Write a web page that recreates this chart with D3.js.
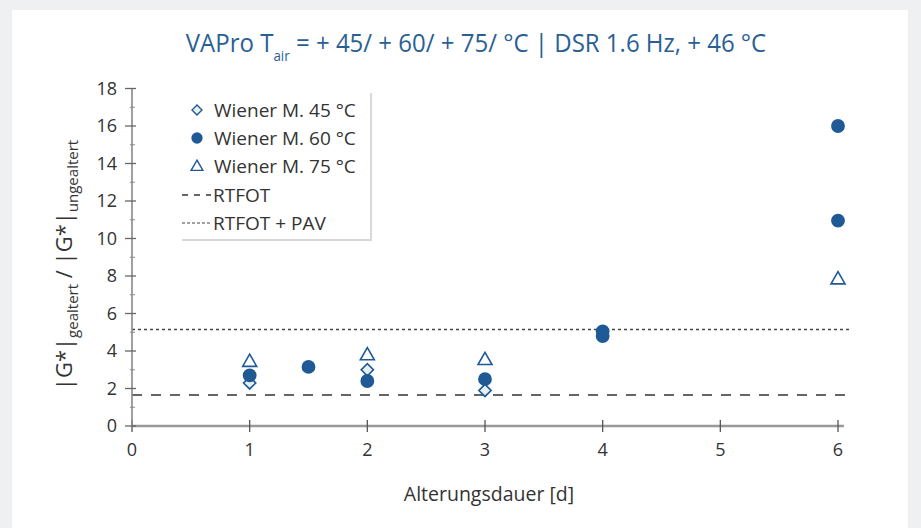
<!DOCTYPE html>
<html><head><meta charset="utf-8">
<script src="https://cdn.jsdelivr.net/npm/d3@7"></script>
<style>
html,body{margin:0;padding:0;background:#eef0f2;}
svg{display:block;}
</style></head>
<body><svg id="c" width="921" height="528"></svg>
<script>
// ---- data ----
const xTicks = [0,1,2,3,4,5,6];
const yTicks = [0,2,4,6,8,10,12,14,16,18];
const wiener45 = [[1,2.3],[2,3.0],[3,1.9]];
const wiener60 = [[1,2.7],[1.5,3.15],[2,2.4],[3,2.5],[4,5.05],[4,4.8],[6,16.0],[6,10.95]];
const wiener75 = [[1,3.45],[2,3.8],[3,3.55],[6,7.85]];
const rtfot = 1.65;
const rtfotPav = 5.15;
const legendLabels = ["Wiener M. 45 °C","Wiener M. 60 °C","Wiener M. 75 °C","RTFOT","RTFOT + PAV"];

const blue = "#1f5a96";
const svg = d3.select("#c");
svg.append("rect").attr("x",12).attr("y",10).attr("width",896).attr("height",518).attr("fill","#ffffff");

const x = d3.scaleLinear().domain([0,6]).range([132,838]);
const y = d3.scaleLinear().domain([0,18]).range([426,88.5]);
const font = "'Open Sans',sans-serif";

// title (condensed look via horizontal scale)
const t = svg.append("text").attr("transform","translate(476,52) scale(0.96,1)").attr("text-anchor","middle")
  .attr("fill","#2a5f95").attr("font-family",font).attr("font-size",25);
t.append("tspan").text("VAPro T");
t.append("tspan").attr("font-size",14).attr("dy",9).text("air");
t.append("tspan").attr("dy",-9).text(" = + 45/ + 60/ + 75/ °C | DSR 1.6 Hz, + 46 °C");

// reference lines
const lineG = svg.append("g");
lineG.append("line").attr("x1",x(0)).attr("x2",x(6.1)).attr("y1",y(rtfot)).attr("y2",y(rtfot))
  .attr("stroke","#333").attr("stroke-width",1.6).attr("stroke-dasharray","10,9");
lineG.append("line").attr("x1",x(0)).attr("x2",x(6.1)).attr("y1",y(rtfotPav)).attr("y2",y(rtfotPav))
  .attr("stroke","#444").attr("stroke-width",1.4).attr("stroke-dasharray","3,3");

// axes
const xAxis = svg.append("g").attr("transform",`translate(0,${y(0)})`);
xAxis.append("line").attr("x1",x(0)).attr("x2",x(6.05)).attr("stroke","#999").attr("stroke-width",2.5);
xAxis.selectAll("line.t").data(xTicks).join("line").attr("class","t")
  .attr("x1",d=>x(d)).attr("x2",d=>x(d)).attr("y1",-6).attr("y2",6).attr("stroke","#555").attr("stroke-width",1.3);
xAxis.selectAll("text").data(xTicks).join("text").attr("x",d=>x(d)).attr("y",30)
  .attr("text-anchor","middle").attr("font-family",font).attr("font-size",18).attr("fill","#333").text(d=>d);

const yAxis = svg.append("g").attr("transform",`translate(${x(0)},0)`);
yAxis.append("line").attr("y1",y(0)).attr("y2",y(18)).attr("stroke","#888").attr("stroke-width",1.6);
yAxis.selectAll("line.m").data(d3.range(1,18,1).filter(d=>d%2)).join("line").attr("class","m")
  .attr("y1",d=>y(d)).attr("y2",d=>y(d)).attr("x1",-2).attr("x2",3).attr("stroke","#888").attr("stroke-width",1);
yAxis.selectAll("line.t").data(yTicks).join("line").attr("class","t")
  .attr("y1",d=>y(d)).attr("y2",d=>y(d)).attr("x1",-7).attr("x2",4).attr("stroke","#666").attr("stroke-width",1.3);
yAxis.selectAll("text").data(yTicks).join("text").attr("x",-15).attr("y",d=>y(d)+6)
  .attr("text-anchor","end").attr("font-family",font).attr("font-size",18).attr("fill","#333").text(d=>d);

// axis titles
svg.append("text").attr("x",489).attr("y",501).attr("text-anchor","middle").attr("font-family",font)
  .attr("font-size",19.5).attr("fill","#333").text("Alterungsdauer [d]");
const yl = svg.append("text").attr("transform","translate(72,265) rotate(-90)").attr("text-anchor","middle")
  .attr("font-family",font).attr("font-size",22).attr("fill","#333");
yl.append("tspan").text("|G*|");
yl.append("tspan").attr("font-size",15).attr("dy",6).text("gealtert");
yl.append("tspan").attr("dy",-6).text(" / |G*|");
yl.append("tspan").attr("font-size",15).attr("dy",6).text("ungealtert");

// marker shapes
const diamond = d3.symbol().type(d3.symbolSquare).size(75);
const circle = d3.symbol().type(d3.symbolCircle).size(150);
const tri = d3.symbol().type(d3.symbolTriangle).size(85);

const pts = svg.append("g");
pts.selectAll("path.d").data(wiener45).join("path").attr("class","d")
  .attr("d",diamond).attr("transform",d=>`translate(${x(d[0])},${y(d[1])}) rotate(45)`)
  .attr("fill","#e6f0ef").attr("stroke",blue).attr("stroke-width",1.6);
pts.selectAll("path.c").data(wiener60).join("path").attr("class","c")
  .attr("d",circle).attr("transform",d=>`translate(${x(d[0])},${y(d[1])})`).attr("fill",blue);
pts.selectAll("path.tr").data(wiener75).join("path").attr("class","tr")
  .attr("d",tri).attr("transform",d=>`translate(${x(d[0])},${y(d[1])+1})`)
  .attr("fill","#fff").attr("stroke",blue).attr("stroke-width",1.6);

// legend
const lg = svg.append("g");
lg.append("rect").attr("x",180).attr("y",91).attr("width",190).attr("height",148).attr("fill","#c8c8c8").attr("transform","translate(2,2)").attr("opacity",0.7);
lg.append("rect").attr("x",180).attr("y",91).attr("width",190).attr("height",148).attr("fill","#fff");
const rows = [110,138,166,195,223];
lg.selectAll("text").data(legendLabels).join("text").attr("x",(d,i)=>i<3?214:213).attr("y",(d,i)=>rows[i]+7)
  .attr("font-family",font).attr("font-size",19).attr("fill","#333").text(d=>d);
lg.append("path").attr("d",d3.symbol().type(d3.symbolSquare).size(50)).attr("transform",`translate(197,${rows[0]}) rotate(45)`)
  .attr("fill","#e6f0ef").attr("stroke",blue).attr("stroke-width",1.4);
lg.append("path").attr("d",d3.symbol().type(d3.symbolCircle).size(100)).attr("transform",`translate(197,${rows[1]})`).attr("fill",blue);
lg.append("path").attr("d",d3.symbol().type(d3.symbolTriangle).size(60)).attr("transform",`translate(197,${rows[2]+1})`)
  .attr("fill","#fff").attr("stroke",blue).attr("stroke-width",1.4);
lg.append("line").attr("x1",182).attr("x2",211).attr("y1",rows[3]).attr("y2",rows[3]).attr("stroke","#333").attr("stroke-width",1.4).attr("stroke-dasharray","6,6");
lg.append("line").attr("x1",182).attr("x2",211).attr("y1",rows[4]).attr("y2",rows[4]).attr("stroke","#444").attr("stroke-width",1.2).attr("stroke-dasharray","3,2");
</script></body></html>
